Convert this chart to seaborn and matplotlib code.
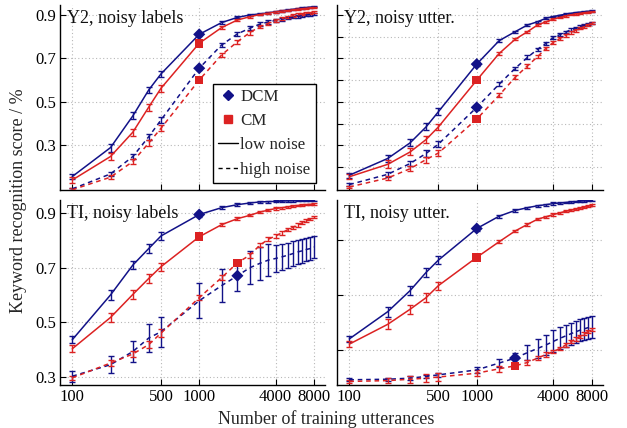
import numpy as np
import pandas as pd
import matplotlib
matplotlib.use("Agg")
import matplotlib.pyplot as plt
import seaborn as sns
from matplotlib.lines import Line2D

# ---------------- data ----------------
n_train = [100, 200, 300, 400, 500, 1000, 1500, 2000, 2500, 3000, 3500, 4000,
           4500, 5000, 5500, 6000, 6500, 7000, 7500, 8000]

panel_titles = ["Y2, noisy labels", "Y2, noisy utter.", "TI, noisy labels", "TI, noisy utter."]

# Y2, noisy labels
y2_lab_dcm_low = [0.157, 0.290, 0.436, 0.555, 0.629, 0.811, 0.865, 0.889, 0.900, 0.905, 0.910, 0.915, 0.919, 0.923, 0.926, 0.929, 0.932, 0.934, 0.936, 0.938]
y2_lab_cm_low = [0.141, 0.249, 0.361, 0.476, 0.563, 0.770, 0.842, 0.877, 0.892, 0.902, 0.908, 0.914, 0.918, 0.921, 0.924, 0.927, 0.929, 0.931, 0.933, 0.935]
y2_lab_dcm_high = [0.100, 0.169, 0.249, 0.340, 0.417, 0.655, 0.762, 0.813, 0.839, 0.858, 0.868, 0.875, 0.881, 0.886, 0.890, 0.894, 0.897, 0.900, 0.902, 0.905]
y2_lab_cm_high = [0.096, 0.154, 0.226, 0.311, 0.379, 0.601, 0.716, 0.777, 0.819, 0.846, 0.862, 0.875, 0.884, 0.891, 0.897, 0.901, 0.905, 0.908, 0.910, 0.912]

# Y2, noisy utterances
y2_utt_dcm_low = [0.163, 0.240, 0.312, 0.385, 0.455, 0.674, 0.782, 0.823, 0.854, 0.869, 0.885, 0.893, 0.899, 0.904, 0.908, 0.911, 0.913, 0.915, 0.917, 0.918]
y2_utt_cm_low = [0.156, 0.213, 0.270, 0.327, 0.385, 0.600, 0.723, 0.788, 0.823, 0.854, 0.869, 0.881, 0.889, 0.896, 0.901, 0.905, 0.908, 0.911, 0.913, 0.915]
y2_utt_dcm_high = [0.120, 0.167, 0.217, 0.263, 0.306, 0.475, 0.582, 0.654, 0.705, 0.742, 0.770, 0.797, 0.810, 0.822, 0.832, 0.840, 0.847, 0.853, 0.859, 0.865]
y2_utt_cm_high = [0.109, 0.150, 0.193, 0.235, 0.265, 0.421, 0.531, 0.613, 0.666, 0.708, 0.747, 0.774, 0.792, 0.807, 0.820, 0.830, 0.839, 0.847, 0.855, 0.862]

# TI, noisy labels
ti_lab_dcm_low = [0.437, 0.600, 0.709, 0.769, 0.815, 0.893, 0.918, 0.929, 0.935, 0.939, 0.940, 0.941, 0.942, 0.943, 0.943, 0.944, 0.944, 0.945, 0.945, 0.945]
ti_lab_cm_low = [0.404, 0.518, 0.602, 0.660, 0.703, 0.812, 0.856, 0.878, 0.890, 0.902, 0.909, 0.915, 0.918, 0.921, 0.924, 0.926, 0.928, 0.929, 0.930, 0.931]
ti_lab_dcm_high = [0.304, 0.346, 0.394, 0.443, 0.466, 0.579, 0.634, 0.670, 0.699, 0.715, 0.727, 0.733, 0.739, 0.745, 0.751, 0.757, 0.761, 0.766, 0.769, 0.775]
ti_lab_cm_high = [0.298, 0.352, 0.385, 0.419, 0.461, 0.590, 0.663, 0.717, 0.745, 0.781, 0.803, 0.815, 0.827, 0.838, 0.847, 0.855, 0.863, 0.870, 0.877, 0.884]

# TI, noisy utterances
ti_utt_dcm_low = [0.440, 0.539, 0.616, 0.682, 0.727, 0.842, 0.887, 0.908, 0.918, 0.925, 0.929, 0.933, 0.935, 0.937, 0.939, 0.940, 0.942, 0.943, 0.944, 0.945]
ti_utt_cm_low = [0.421, 0.493, 0.548, 0.590, 0.634, 0.737, 0.794, 0.833, 0.857, 0.876, 0.885, 0.893, 0.899, 0.905, 0.909, 0.913, 0.917, 0.920, 0.924, 0.927]
ti_utt_dcm_high = [0.291, 0.293, 0.297, 0.303, 0.309, 0.327, 0.352, 0.370, 0.390, 0.405, 0.418, 0.431, 0.442, 0.451, 0.459, 0.466, 0.472, 0.477, 0.481, 0.485]
ti_utt_cm_high = [0.285, 0.288, 0.293, 0.297, 0.301, 0.315, 0.331, 0.342, 0.354, 0.370, 0.383, 0.394, 0.405, 0.418, 0.430, 0.440, 0.450, 0.459, 0.467, 0.475]

# error bar half-widths
err_small = [0.012, 0.018, 0.016, 0.016, 0.015, 0.008, 0.006, 0.005, 0.004, 0.004, 0.004, 0.004, 0.003, 0.003, 0.003, 0.003, 0.003, 0.003, 0.003, 0.003]
err_mid = [0.006, 0.010, 0.012, 0.014, 0.014, 0.010, 0.010, 0.009, 0.009, 0.008, 0.008, 0.007, 0.007, 0.006, 0.006, 0.006, 0.005, 0.005, 0.005, 0.005]
ti_lab_dcm_high_err = [0.020, 0.030, 0.040, 0.050, 0.055, 0.063, 0.060, 0.057, 0.060, 0.060, 0.058, 0.050, 0.048, 0.046, 0.045, 0.044, 0.043, 0.042, 0.041, 0.040]
ti_utt_dcm_high_err = [0.005, 0.005, 0.006, 0.007, 0.008, 0.012, 0.016, 0.020, 0.028, 0.033, 0.037, 0.040, 0.040, 0.040, 0.040, 0.040, 0.040, 0.040, 0.040, 0.040]

yticks_list = [[0.3, 0.5, 0.7, 0.9], [0.2, 0.3, 0.4, 0.5, 0.6, 0.7, 0.8, 0.9],
               [0.3, 0.5, 0.7, 0.9], [0.4, 0.6, 0.8]]
xtick_vals = [100, 500, 1000, 4000, 8000]
xtick_labels = ["100", "500", "1000", "4000", "8000"]

BLUE = "#121288"
RED = "#dc2222"

# ---------------- style ----------------
sns.set_theme(style="white")
plt.rcParams["font.family"] = ["Liberation Serif", "DejaVu Serif"]
plt.rcParams["font.size"] = 12

fig = plt.figure(figsize=(6.27, 4.28), dpi=100)
W, H = 627.0, 428.0
positions = [
    [60 / W, 1 - 190 / H, 265 / W, 185 / H],
    [337 / W, 1 - 190 / H, 266 / W, 185 / H],
    [60 / W, 1 - 385 / H, 265 / W, 185 / H],
    [337 / W, 1 - 385 / H, 266 / W, 185 / H],
]
ylims = [(0.095, 0.946), (0.095, 0.946), (0.272, 0.946), (0.272, 0.946)]

panel_data = [
    (y2_lab_dcm_low, y2_lab_cm_low, y2_lab_dcm_high, y2_lab_cm_high, err_small, err_small, err_mid, err_mid),
    (y2_utt_dcm_low, y2_utt_cm_low, y2_utt_dcm_high, y2_utt_cm_high, err_small, err_small, err_mid, err_mid),
    (ti_lab_dcm_low, ti_lab_cm_low, ti_lab_dcm_high, ti_lab_cm_high, err_small, err_small, ti_lab_dcm_high_err, err_mid),
    (ti_utt_dcm_low, ti_utt_cm_low, ti_utt_dcm_high, ti_utt_cm_high, err_small, err_small, ti_utt_dcm_high_err, err_mid),
]
marker_x_high = [1000, 1000, 2000, 2000]

for i, (title, pos, pdata) in enumerate(zip(panel_titles, positions, panel_data)):
    ax = fig.add_axes(pos)
    dl, cl, dh, ch, edl, ecl, edh, ech = pdata
    frames = []
    for vals, model, noise in [(dl, "DCM", "low"), (cl, "CM", "low"), (dh, "DCM", "high"), (ch, "CM", "high")]:
        frames.append(pd.DataFrame({"n": n_train, "score": vals, "model": model, "noise": noise}))
    df = pd.concat(frames, ignore_index=True)

    # error bars
    for vals, err, col in [(dl, edl, BLUE), (cl, ecl, RED), (dh, edh, BLUE), (ch, ech, RED)]:
        ax.errorbar(n_train, vals, yerr=err, fmt="none", ecolor=col, elinewidth=1.0,
                    capsize=2, capthick=1.0, zorder=2)

    sns.lineplot(data=df, x="n", y="score", hue="model", style="noise",
                 palette={"DCM": BLUE, "CM": RED},
                 dashes={"low": "", "high": (3, 2.5)}, linewidth=1.1,
                 legend=False, ax=ax, zorder=3)

    # single markers
    mk = []
    for vals, model, noise, mx in [(dl, "DCM", "low", 1000), (cl, "CM", "low", 1000),
                                   (dh, "DCM", "high", marker_x_high[i]), (ch, "CM", "high", marker_x_high[i])]:
        mk.append({"n": mx, "score": vals[n_train.index(mx)], "model": model})
    mdf = pd.DataFrame(mk)
    sns.scatterplot(data=mdf, x="n", y="score", hue="model", style="model",
                    markers={"DCM": "D", "CM": "s"}, palette={"DCM": BLUE, "CM": RED},
                    s=38, edgecolor="none", legend=False, ax=ax, zorder=4)

    ax.set_xscale("log")
    ax.set_xlim(80, 9800)
    ax.set_ylim(*ylims[i])
    ax.set_xticks(xtick_vals)
    ax.xaxis.set_minor_locator(matplotlib.ticker.NullLocator())
    ax.set_yticks(yticks_list[i])
    if i >= 2:
        ax.set_xticklabels(xtick_labels)
    else:
        ax.set_xticklabels([])
    if i % 2 == 0:
        ax.set_yticklabels([f"{v:.1f}" for v in yticks_list[i]])
    else:
        ax.set_yticklabels([])
    ax.set_xlabel("")
    ax.set_ylabel("")
    ax.tick_params(axis="both", direction="in", length=4, width=0.8, colors="black",
                   labelsize=12, pad=3, left=True, bottom=True)
    ax.grid(True, linestyle=(0, (1, 2.2)), color="#b8b8b8", linewidth=0.8)
    for s in ["top", "right"]:
        ax.spines[s].set_visible(False)
    for s in ["left", "bottom"]:
        ax.spines[s].set_color("black")
        ax.spines[s].set_linewidth(1.0)
    ax.set_facecolor("white")
    ax.text(0.025, 0.975, title, transform=ax.transAxes, ha="left", va="top", fontsize=13,
            color="#111111", zorder=6)

    if i == 0:
        handles = [
            Line2D([], [], marker="D", color=BLUE, linestyle="none", markersize=5.5),
            Line2D([], [], marker="s", color=RED, linestyle="none", markersize=5.5),
            Line2D([], [], color="black", linewidth=1.0),
            Line2D([], [], color="black", linewidth=1.0, linestyle=(0, (3, 2.5))),
        ]
        leg = ax.legend(handles, ["DCM", "CM", "low noise", "high noise"], loc="lower right",
                        bbox_to_anchor=(0.965, 0.04), borderaxespad=0, fontsize=12.2,
                        handlelength=1.2, handletextpad=0.12, borderpad=0.3,
                        labelspacing=0.48, fancybox=False, framealpha=1, edgecolor="black")
        leg.get_frame().set_linewidth(1.0)
        leg.set_zorder(10)

fig.text(0.029, 0.53, "Keyword recognition score / %", rotation=90, ha="center", va="center",
         fontsize=13)
fig.text(0.52, 0.022, "Number of training utterances", ha="center", va="center", fontsize=13)

fig.savefig("out.png", dpi=100, facecolor="white")
